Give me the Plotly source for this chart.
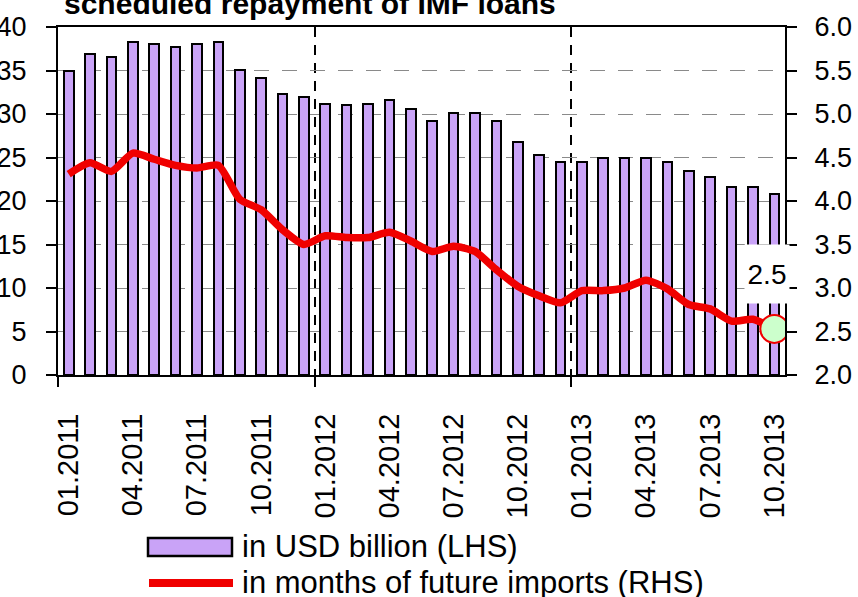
import plotly.graph_objects as go

months = ["01.2011", "02.2011", "03.2011", "04.2011", "05.2011", "06.2011",
          "07.2011", "08.2011", "09.2011", "10.2011", "11.2011", "12.2011",
          "01.2012", "02.2012", "03.2012", "04.2012", "05.2012", "06.2012",
          "07.2012", "08.2012", "09.2012", "10.2012", "11.2012", "12.2012",
          "01.2013", "02.2013", "03.2013", "04.2013", "05.2013", "06.2013",
          "07.2013", "08.2013", "09.2013", "10.2013"]

usd_billion = [35.0, 36.9, 36.6, 38.3, 38.0, 37.7, 38.0, 38.3, 35.1, 34.1, 32.3, 31.9,
               31.2, 31.0, 31.2, 31.6, 30.6, 29.2, 30.1, 30.1, 29.2, 26.8, 25.3, 24.5,
               24.5, 24.9, 24.9, 25.0, 24.5, 23.4, 22.8, 21.6, 21.6, 20.8]

months_imports = [4.31, 4.44, 4.34, 4.55, 4.48, 4.41, 4.38, 4.41, 4.02, 3.90, 3.67, 3.50,
                  3.60, 3.58, 3.58, 3.64, 3.54, 3.42, 3.48, 3.42, 3.21, 3.02, 2.91, 2.83,
                  2.97, 2.97, 3.00, 3.09, 2.99, 2.81, 2.76, 2.62, 2.64, 2.53]

title_text = "scheduled repayment of IMF loans"
legend_bar = "in USD billion (LHS)"
legend_line = "in months of future imports (RHS)"

FONT = "Liberation Sans, Arial, sans-serif"
BAR_COLOR = "#C9A3F7"
RED = "#F00000"

idx = list(range(len(months)))
year_bounds = [i - 0.5 for i, m in enumerate(months) if m.startswith("01.")]

fig = go.Figure()
fig.add_trace(go.Bar(x=idx, y=usd_billion, width=0.45,
                     marker=dict(color=BAR_COLOR, line=dict(color="black", width=2)),
                     showlegend=False))
fig.add_trace(go.Scatter(x=idx, y=months_imports, yaxis="y2", mode="lines",
                         line=dict(color=RED, width=7.5, shape="spline", smoothing=0.6),
                         showlegend=False))
fig.add_trace(go.Scatter(x=[idx[-1]], y=[months_imports[-1]], yaxis="y2", mode="markers",
                         marker=dict(size=28, color="#CCFFCC", line=dict(color=RED, width=2)),
                         showlegend=False))

fig.update_layout(
    width=858, height=597,
    margin=dict(l=58, r=73, t=27, b=222, autoexpand=False),
    paper_bgcolor="white", plot_bgcolor="white",
    font=dict(family=FONT, color="black", size=29),
    bargap=0,
    xaxis=dict(range=[-0.5, len(months) - 0.5], tickmode="array",
               tickvals=idx[::3], ticktext=months[::3], tickangle=-90,
               ticks="", showgrid=False, zeroline=False,
               showline=True, linecolor="black", linewidth=2, mirror=True,
               ticklabelstandoff=25, automargin=False,
               tickfont=dict(size=29),
               minor=dict(tickmode="array", tickvals=year_bounds, ticks="outside",
                          ticklen=10, tickwidth=1.5, tickcolor="black",
                          showgrid=True, gridcolor="black", gridwidth=1.5,
                          griddash="10px,8px")),
    yaxis=dict(range=[0, 40], dtick=5, tick0=0, ticks="outside", ticklen=10,
               tickwidth=1.5, tickcolor="black", showline=True, linecolor="black",
               linewidth=2, showgrid=True, gridcolor="#8a8a8a", gridwidth=1,
               griddash="15px,13px", zeroline=False, ticklabelstandoff=14,
               automargin=False, tickfont=dict(size=27)),
    yaxis2=dict(range=[2, 6], dtick=0.5, tick0=2, tickformat=".1f", overlaying="y",
                side="right", ticks="outside", ticklen=10, tickwidth=1.5,
                tickcolor="black", showline=True, linecolor="black", linewidth=2,
                showgrid=False, zeroline=False, ticklabelstandoff=12,
                automargin=False, tickfont=dict(size=27)),
)

# Title (partially clipped at the top, as in the reference)
fig.add_annotation(text="<b>" + title_text + "</b>", xref="paper", yref="paper",
                   x=0.007, y=1, xanchor="left", yanchor="bottom", yshift=6,
                   showarrow=False, font=dict(size=30, family=FONT), borderpad=0)

# Label for last value
fig.add_annotation(text=f"{months_imports[-1]:.1f}", x=idx[-1], y=months_imports[-1],
                   xref="x", yref="y2", xanchor="center", yanchor="middle",
                   xshift=-7, yshift=55, showarrow=False, bgcolor="white",
                   width=44, height=58, borderpad=0, font=dict(size=28, family=FONT))

# Custom legend
PW, PH = 727.0, 348.0
def px(x):
    return (x - 58) / PW
def py(y):
    return (375 - y) / PH

fig.add_shape(type="rect", xref="paper", yref="paper",
              x0=px(148), x1=px(232), y0=py(556), y1=py(538),
              fillcolor=BAR_COLOR, line=dict(color="black", width=2.5))
fig.add_shape(type="line", xref="paper", yref="paper",
              x0=px(149), x1=px(233), y0=py(583), y1=py(583),
              line=dict(color=RED, width=8))
fig.add_annotation(text=legend_bar, xref="paper", yref="paper", x=px(240), y=py(546),
                   xanchor="left", yanchor="middle", showarrow=False,
                   font=dict(size=31, family=FONT))
fig.add_annotation(text=legend_line, xref="paper", yref="paper", x=px(240), y=py(582),
                   xanchor="left", yanchor="middle", showarrow=False,
                   font=dict(size=31, family=FONT))

fig.write_html("out.html")
